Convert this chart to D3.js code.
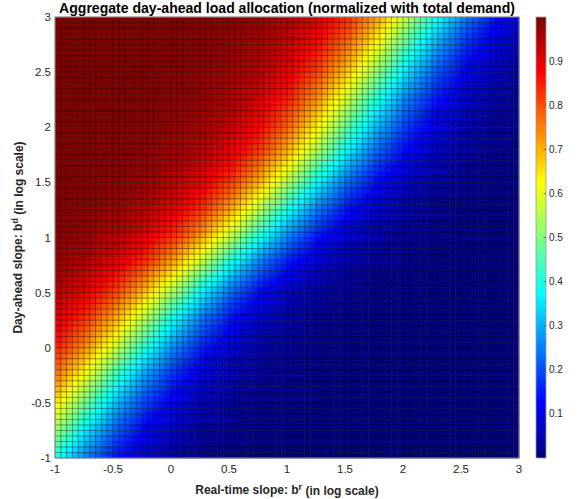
<!DOCTYPE html>
<html>
<head>
<meta charset="utf-8">
<script src="https://cdn.jsdelivr.net/npm/d3@7"></script>
<style>
  body { margin: 0; background: #fff; }
  svg { display: block; font-family: "Liberation Sans", Arial, Helvetica, sans-serif; }
</style>
</head>
<body>
<div class="vis"></div>
<script>
const w = 579;
const h = 499;

// readings every 0.25 (log10 slopes)
const xReadings = [-1, -0.75, -0.5, -0.25, 0, 0.25, 0.5, 0.75, 1, 1.25, 1.5, 1.75, 2, 2.25, 2.5, 2.75, 3];
const yReadings = [3, 2.75, 2.5, 2.25, 2, 1.75, 1.5, 1.25, 1, 0.75, 0.5, 0.25, 0, -0.25, -0.5, -0.75, -1];
// day-ahead share, one row per yReadings entry (top row first)
const share = [
  [1.000, 1.000, 0.999, 0.998, 0.997, 0.994, 0.988, 0.976, 0.954, 0.913, 0.842, 0.731, 0.580, 0.413, 0.264, 0.154, 0.085],
  [1.000, 0.999, 0.999, 0.997, 0.995, 0.990, 0.980, 0.962, 0.929, 0.869, 0.771, 0.632, 0.466, 0.308, 0.185, 0.103, 0.056],
  [0.999, 0.999, 0.998, 0.996, 0.992, 0.984, 0.970, 0.943, 0.894, 0.811, 0.686, 0.527, 0.362, 0.225, 0.128, 0.069, 0.037],
  [0.999, 0.998, 0.997, 0.994, 0.988, 0.976, 0.954, 0.913, 0.842, 0.731, 0.580, 0.413, 0.264, 0.154, 0.085, 0.045, 0.023],
  [0.999, 0.997, 0.995, 0.990, 0.981, 0.963, 0.931, 0.872, 0.775, 0.638, 0.473, 0.314, 0.189, 0.106, 0.057, 0.030, 0.015],
  [0.998, 0.996, 0.992, 0.984, 0.970, 0.943, 0.894, 0.811, 0.686, 0.527, 0.362, 0.225, 0.128, 0.069, 0.037, 0.019, 0.010],
  [0.996, 0.993, 0.986, 0.972, 0.947, 0.901, 0.823, 0.703, 0.547, 0.381, 0.239, 0.137, 0.075, 0.040, 0.021, 0.011, 0.005],
  [0.993, 0.987, 0.974, 0.950, 0.906, 0.831, 0.714, 0.560, 0.394, 0.249, 0.144, 0.079, 0.042, 0.022, 0.011, 0.006, 0.003],
  [0.987, 0.975, 0.951, 0.908, 0.835, 0.720, 0.567, 0.400, 0.254, 0.147, 0.081, 0.043, 0.022, 0.012, 0.006, 0.003, 0.002],
  [0.973, 0.948, 0.904, 0.827, 0.709, 0.554, 0.387, 0.244, 0.141, 0.077, 0.041, 0.021, 0.011, 0.006, 0.003, 0.002, 0.001],
  [0.945, 0.899, 0.819, 0.698, 0.541, 0.374, 0.234, 0.134, 0.073, 0.039, 0.020, 0.010, 0.005, 0.003, 0.001, 0.001, 0.000],
  [0.904, 0.827, 0.709, 0.554, 0.387, 0.244, 0.141, 0.077, 0.041, 0.021, 0.011, 0.006, 0.003, 0.002, 0.001, 0.000, 0.000],
  [0.846, 0.736, 0.587, 0.420, 0.270, 0.158, 0.088, 0.046, 0.024, 0.013, 0.006, 0.003, 0.002, 0.001, 0.000, 0.000, 0.000],
  [0.756, 0.613, 0.446, 0.291, 0.173, 0.096, 0.052, 0.027, 0.014, 0.007, 0.004, 0.002, 0.001, 0.001, 0.000, 0.000, 0.000],
  [0.650, 0.487, 0.325, 0.198, 0.111, 0.060, 0.031, 0.016, 0.009, 0.004, 0.002, 0.001, 0.001, 0.000, 0.000, 0.000, 0.000],
  [0.527, 0.362, 0.225, 0.128, 0.069, 0.037, 0.019, 0.010, 0.005, 0.003, 0.001, 0.001, 0.000, 0.000, 0.000, 0.000, 0.000],
  [0.400, 0.254, 0.147, 0.081, 0.043, 0.022, 0.012, 0.006, 0.003, 0.002, 0.001, 0.000, 0.000, 0.000, 0.000, 0.000, 0.000]
];
const axisTicks = [-1, -0.5, 0, 0.5, 1, 1.5, 2, 2.5, 3];
const colorTicks = [0.1, 0.2, 0.3, 0.4, 0.5, 0.6, 0.7, 0.8, 0.9];
const gridStep = 0.05;

const margin = { left: 55, right: 60, top: 17, bottom: 41 };
const plotR = w - margin.right;
const plotB = h - margin.bottom;

const svg = d3.select(".vis").append("svg").attr("width", w).attr("height", h);

const x = d3.scaleLinear().domain([-1, 3]).range([margin.left, plotR]);
const y = d3.scaleLinear().domain([-1, 3]).range([plotB, margin.top]);

// matlab jet
const jet = (t) => {
  const c = (v) => Math.round(255 * Math.max(0, Math.min(1, v)));
  return `rgb(${c(1.5 - Math.abs(4 * t - 3))},${c(1.5 - Math.abs(4 * t - 2))},${c(1.5 - Math.abs(4 * t - 1))})`;
};
const color = d3.scaleSequential(jet).domain([0, 1]);

// surface vertices: resample the readings onto the 0.05 mesh
const colIdx = d3.scaleLinear().domain(d3.extent(xReadings)).range([0, xReadings.length - 1]);
const rowIdx = d3.scaleLinear().domain([yReadings[0], yReadings[yReadings.length - 1]]).range([0, yReadings.length - 1]);
function valueAt(vx, vy) {
  const cf = colIdx(vx), rf = rowIdx(vy);
  const c0 = Math.min(Math.floor(cf), xReadings.length - 2), r0 = Math.min(Math.floor(rf), yReadings.length - 2);
  const tc = cf - c0, tr = rf - r0;
  const top = share[r0][c0] * (1 - tc) + share[r0][c0 + 1] * tc;
  const bot = share[r0 + 1][c0] * (1 - tc) + share[r0 + 1][c0 + 1] * tc;
  return top * (1 - tr) + bot * tr;
}

const nCells = Math.round(4 / gridStep);
const mesh = d3.range(nCells + 1).map((i) => -1 + i * gridStep);
const cells = [];
mesh.slice(0, -1).forEach((cy) => {
  mesh.slice(0, -1).forEach((cx) => {
    cells.push({ x0: cx, y0: cy, value: valueAt(cx, cy) });
  });
});

svg.append("g")
  .selectAll("rect")
  .data(cells)
  .enter()
  .append("rect")
  .attr("x", (d) => x(d.x0))
  .attr("y", (d) => y(d.y0 + gridStep))
  .attr("width", (d) => x(d.x0 + gridStep) - x(d.x0) + 0.3)
  .attr("height", (d) => y(d.y0) - y(d.y0 + gridStep) + 0.3)
  .attr("fill", (d) => color(d.value));

// faceted edges
const edges = svg.append("g").attr("stroke", "#000").attr("stroke-opacity", 0.65).attr("stroke-width", 0.6);
edges.selectAll(".vline")
  .data(mesh)
  .enter()
  .append("line")
  .attr("x1", (d) => x(d)).attr("x2", (d) => x(d))
  .attr("y1", y(-1)).attr("y2", y(3));
edges.selectAll(".hline")
  .data(mesh)
  .enter()
  .append("line")
  .attr("y1", (d) => y(d)).attr("y2", (d) => y(d))
  .attr("x1", x(-1)).attr("x2", x(3));

svg.append("rect")
  .attr("x", margin.left).attr("y", margin.top)
  .attr("width", plotR - margin.left).attr("height", plotB - margin.top)
  .attr("fill", "none").attr("stroke", "#999").attr("stroke-width", 1);

// tick labels
svg.append("g")
  .selectAll("text")
  .data(axisTicks)
  .enter()
  .append("text")
  .attr("x", (d) => x(d))
  .attr("y", plotB + 15)
  .attr("text-anchor", "middle")
  .attr("font-size", "11.5px")
  .attr("fill", "#262626")
  .text((d) => d);

svg.append("g")
  .selectAll("text")
  .data(axisTicks)
  .enter()
  .append("text")
  .attr("x", margin.left - 4)
  .attr("y", (d) => y(d))
  .attr("dy", "0.35em")
  .attr("text-anchor", "end")
  .attr("font-size", "11.5px")
  .attr("fill", "#262626")
  .text((d) => d);

// colorbar
const cbX = 536, cbW = 10;
const cb = d3.scaleLinear().domain([0, 1]).range([plotB, margin.top]);
const grad = svg.append("defs").append("linearGradient")
  .attr("id", "jetGrad").attr("x1", 0).attr("y1", 1).attr("x2", 0).attr("y2", 0);
grad.selectAll("stop")
  .data(d3.range(0, 1.0001, 1 / 64))
  .enter()
  .append("stop")
  .attr("offset", (d) => d)
  .attr("stop-color", (d) => color(d));
svg.append("rect")
  .attr("x", cbX).attr("y", margin.top)
  .attr("width", cbW).attr("height", plotB - margin.top)
  .attr("fill", "url(#jetGrad)")
  .attr("stroke", "#999").attr("stroke-width", 0.8);

const cbTicks = svg.append("g");
cbTicks.selectAll("line")
  .data(colorTicks)
  .enter()
  .append("line")
  .attr("x1", cbX + cbW - 2.5).attr("x2", cbX + cbW)
  .attr("y1", (d) => cb(d)).attr("y2", (d) => cb(d))
  .attr("stroke", "#444").attr("stroke-width", 0.7);
cbTicks.selectAll("text")
  .data(colorTicks)
  .enter()
  .append("text")
  .attr("x", cbX + cbW + 3)
  .attr("y", (d) => cb(d))
  .attr("dy", "0.35em")
  .attr("font-size", "10px")
  .attr("fill", "#262626")
  .text((d) => d);

// title + labels
const title = svg.append("text")
  .attr("x", (margin.left + plotR) / 2)
  .attr("y", 13)
  .attr("text-anchor", "middle")
  .attr("font-weight", "bold")
  .attr("font-size", "13px")
  .attr("fill", "#000")
  .text("Aggregate day-ahead load allocation (normalized with total demand)");
const tl = title.node().getComputedTextLength();
if (tl > 0) title.attr("font-size", (13 * 456 / tl).toFixed(2) + "px");

const xl = svg.append("text")
  .attr("x", (margin.left + plotR) / 2)
  .attr("y", plotB + 36)
  .attr("text-anchor", "middle")
  .attr("font-weight", "bold")
  .attr("font-size", "12px")
  .attr("fill", "#262626");
xl.append("tspan").text("Real-time slope: b");
xl.append("tspan").attr("dy", "-0.45em").attr("font-size", "9px").text("r");
xl.append("tspan").attr("dy", "0.45em").text(" (in log scale)");

const yl = svg.append("text")
  .attr("transform", `translate(22,${(margin.top + plotB) / 2}) rotate(-90)`)
  .attr("text-anchor", "middle")
  .attr("font-weight", "bold")
  .attr("font-size", "12px")
  .attr("fill", "#262626");
yl.append("tspan").text("Day-ahead slope: b");
yl.append("tspan").attr("dy", "-0.45em").attr("font-size", "9px").text("d");
yl.append("tspan").attr("dy", "0.45em").text(" (in log scale)");
</script>
</body>
</html>
